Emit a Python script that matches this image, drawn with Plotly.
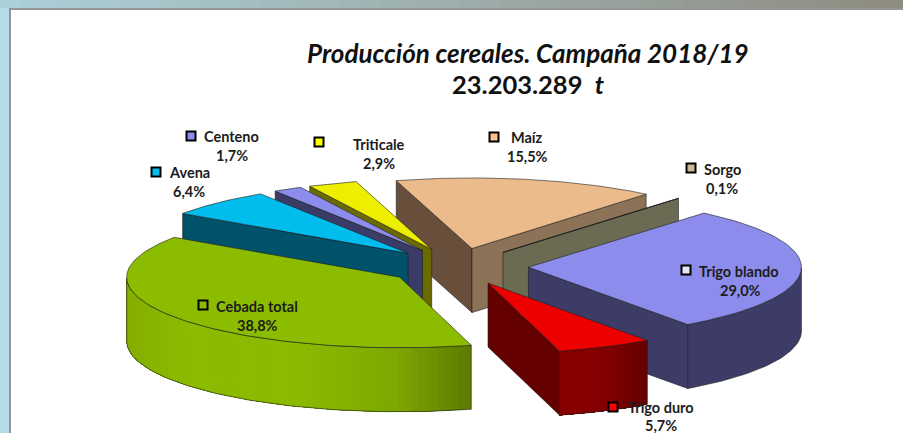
import numpy as np
import plotly.graph_objects as go

# ---- data
categories = ["Trigo blando", "Trigo duro", "Cebada total", "Avena", "Centeno", "Triticale", "Maíz", "Sorgo"]
percent = [29.0, 5.7, 38.8, 6.4, 1.7, 2.9, 15.5, 0.1]
percent_labels = ["29,0%", "5,7%", "38,8%", "6,4%", "1,7%", "2,9%", "15,5%", "0,1%"]
title_line1 = "<i>Producción cereales. Campaña 2018/19</i>"
title_line2 = "23.203.289  <i>t</i>"

# ---- styles
top_colors = ["#8c8cec", "#ee0000", "#8cbc00", "#00bdee", "#8c8cec", "#eeee00", "#ecbb8c", "#c4bd97"]
key_colors = ["#e4e4fb", "#ff0000", "#8cbc00", "#00bdee", "#8c8cec", "#ffff00", "#fcc48c", "#c4bd97"]
wall_first = ["#3c3c66", "#640000", "#5b7c00", "#00526a", "#3b3b68", "#6a6a00", "#674f3c", "#6b6a52"]
wall_last = ["#3c3c66", "#640000", "#5b7c00", "#00526a", "#3b3b68", "#6a6a00", "#8c7357", "#6b6a52"]
rim_stops = {
    "Cebada total": ([0, .15, .5, .78, 1], ["#84ae00", "#8abb00", "#8abb00", "#7ea800", "#5b7c00"]),
    "Trigo duro": ([0, .45, 1], ["#8a0000", "#860000", "#680000"]),
}
rim_flat = "#3c3c66"
OUT = "rgba(30,30,30,0.75)"

# ---- pie geometry (pixels of the page, orthographic tilted pie)
CX, CY = 457.5, 266.5
RX, RY = 273.0, 70.6
DEPTH = 64.0
EXPLODE = 0.26
START = 50.0

# label layout: key x, key y, text x, name y, percent y
key_xy = [(686, 270), (613, 407), (203, 305), (156, 172), (191, 136), (319, 142), (494, 137), (691, 168)]
name_xy = [(739, 271), (661, 407), (257, 306), (189, 172), (231, 136), (379, 144), (527, 137), (722, 169)]
pct_xy = [(740, 290), (661, 425), (257, 325), (189, 191), (232, 155), (379, 163), (527, 156), (722, 188)]

total = sum(percent)
sweeps = [p / total * 360 for p in percent]
stops = START - np.concatenate([[0], np.cumsum(sweeps)])

fig = go.Figure()


def poly(xs, ys, fill, line=None, width=0.8):
    fig.add_trace(go.Scatter(
        x=list(xs), y=list(ys), mode="lines", fill="toself", fillcolor=fill,
        line=dict(color=line or fill, width=width),
        hoverinfo="skip", showlegend=False))


slices = []
for i, name in enumerate(categories):
    a0, a1 = stops[i], stops[i + 1]
    mid = np.radians((a0 + a1) / 2)
    cx = CX + EXPLODE * RX * np.cos(mid)
    cy = CY - EXPLODE * RY * np.sin(mid)
    slices.append((cy, i, a0, a1, cx))

for cy, i, a0, a1, cx in sorted(slices, key=lambda s: s[0]):
    name = categories[i]
    ang = np.radians(np.linspace(a0, a1, 100))
    ex = cx + RX * np.cos(ang)
    ey = cy - RY * np.sin(ang)

    # radial walls that face the viewer
    if np.cos(np.radians(a0)) < 0:
        poly([cx, ex[0], ex[0], cx, cx], [cy, ey[0], ey[0] + DEPTH, cy + DEPTH, cy], wall_first[i], OUT)
    if np.cos(np.radians(a1)) > 0:
        poly([cx, ex[-1], ex[-1], cx, cx], [cy, ey[-1], ey[-1] + DEPTH, cy + DEPTH, cy], wall_last[i], OUT)

    # outer rim, front half only
    vis = np.sin(ang) < 0
    if vis.any():
        rx, ry = ex[vis], ey[vis]
        if name in rim_stops:
            pos, cols = rim_stops[name]
            rgb = np.array([[int(c[k:k + 2], 16) for k in (1, 3, 5)] for c in cols], float)
            t = (rx - rx.min()) / (rx.max() - rx.min())
            # gradient bands painted over one another so that no seams show
            order = range(len(rx) - 1)
            for j in order:
                tm = (t[j] + t[j + 1]) / 2
                col = [np.interp(tm, pos, rgb[:, k]) for k in range(3)]
                c = "rgb(%d,%d,%d)" % tuple(col)
                tail = len(rx)
                poly(list(rx[j:tail]) + list(rx[j:tail][::-1]) + [rx[j]],
                     list(ry[j:tail]) + list(ry[j:tail][::-1] + DEPTH) + [ry[j]], c, width=0)
            fig.add_trace(go.Scatter(
                x=list(rx) + [rx[-1]] + list(rx[::-1]) + [rx[0], rx[0]],
                y=list(ry) + [ry[-1] + DEPTH] + list(ry[::-1] + DEPTH) + [ry[0] + DEPTH, ry[0]],
                mode="lines", line=dict(color=OUT, width=0.8), hoverinfo="skip", showlegend=False))
        else:
            poly(list(rx) + list(rx[::-1]) + [rx[0]],
                 list(ry) + list(ry[::-1] + DEPTH) + [ry[0]], rim_flat, OUT)

    # top face
    poly([cx] + list(ex) + [cx], [cy] + list(ey) + [cy], top_colors[i], OUT)

# legend keys drawn with their labels
fig.add_trace(go.Scatter(
    x=[k[0] for k in key_xy], y=[k[1] for k in key_xy], mode="markers",
    marker=dict(symbol="square", size=9, color=key_colors, line=dict(color="#000000", width=2)),
    hoverinfo="skip", showlegend=False))

FONT = "Lato, Carlito, Calibri, sans-serif"
ann = []
for i, name in enumerate(categories):
    for txt, (x, y) in ((name, name_xy[i]), (percent_labels[i], pct_xy[i])):
        ann.append(dict(x=x, y=y, text="<b>%s</b>" % txt, showarrow=False, xanchor="center", yanchor="middle",
                        font=dict(family=FONT, size=14.5, color="#1c1c1c")))
ann.append(dict(x=528, y=53, text="<b>%s</b>" % title_line1, showarrow=False,
                font=dict(family=FONT, size=26, color="#111111")))
ann.append(dict(x=528, y=84, text="<b>%s</b>" % title_line2, showarrow=False,
                font=dict(family=FONT, size=25.5, color="#111111")))

# page frame: slide background strip along the top and left
shapes = []
N = 45
c_a = np.array([172, 208, 216])
c_b = np.array([143, 140, 128])
for j in range(N):
    c = c_a + (c_b - c_a) * j / (N - 1)
    shapes.append(dict(type="rect", x0=903 * j / N, x1=903 * (j + 1) / N + 1, y0=0, y1=8, line_width=0,
                       fillcolor="rgb(%d,%d,%d)" % tuple(c), layer="below"))
shapes.append(dict(type="rect", x0=0, x1=9, y0=8, y1=433, line_width=0, fillcolor="#b4dbe6", layer="below"))
shapes.append(dict(type="rect", x0=9, x1=903, y0=8, y1=10, line_width=0, fillcolor="#969696", layer="below"))
shapes.append(dict(type="rect", x0=9, x1=11, y0=8, y1=433, line_width=0, fillcolor="#969696", layer="below"))

fig.update_layout(
    width=903, height=433, margin=dict(l=0, r=0, t=0, b=0),
    paper_bgcolor="#ffffff", plot_bgcolor="#ffffff", showlegend=False,
    xaxis=dict(range=[0, 903], visible=False, fixedrange=True),
    yaxis=dict(range=[433, 0], visible=False, fixedrange=True),
    annotations=ann, shapes=shapes, hovermode=False)

fig.write_html("out.html", config={"displayModeBar": False},
               post_script="document.body.style.margin='0';document.body.style.overflow='hidden';")
